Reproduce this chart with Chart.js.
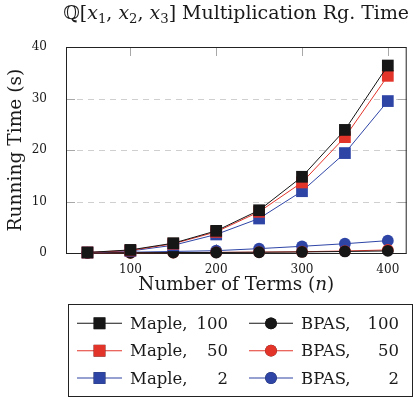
<!DOCTYPE html>
<html><head><meta charset="utf-8">
<script src="https://cdn.jsdelivr.net/npm/chart.js@4"></script>
<style>html,body{margin:0;padding:0;background:#fff}#wrap{width:415px;height:400px}</style>
</head><body><div id="wrap"><canvas id="c" width="415" height="400"></canvas></div>
<script>
// ---- data ----
const terms = [50, 100, 150, 200, 250, 300, 350, 400];
const xTicks = [100, 200, 300, 400];
const yTicks = [0, 10, 20, 30, 40];
const methods = ['Maple', 'BPAS'];
const sizes = ['100', '50', '2'];
const maple100 = [0.1, 0.6, 1.9, 4.3, 8.3, 14.8, 23.9, 36.4];
const maple50  = [0.1, 0.5, 1.8, 4.1, 8.0, 13.7, 22.5, 34.4];
const maple2   = [0.1, 0.4, 1.5, 3.6, 6.7, 12.0, 19.4, 29.5];
const bpas100  = [0.02, 0.05, 0.08, 0.1, 0.15, 0.2, 0.3, 0.4];
const bpas50   = [0.02, 0.05, 0.08, 0.12, 0.17, 0.25, 0.38, 0.6];
const bpas2    = [0.05, 0.15, 0.3, 0.45, 0.85, 1.3, 1.8, 2.4];

const colors = ['#161616', '#e3342a', '#2e45a6'];
const series = [[maple100, maple50, maple2], [bpas100, bpas50, bpas2]];
const pstyles = ['rect', 'circle'];
const pradius = [8.3, 5.9];

const SERIF = '"DejaVu Serif", "DejaVu Sans", serif';
const TXT = '#1a1a1a';
function fnt(size, italic) { return (italic ? 'italic ' : '') + size + 'px ' + SERIF; }

const datasets = [];
methods.forEach((m, mi) => sizes.forEach((s, si) => {
  datasets.push({
    label: m + ', ' + s,
    data: terms.map((t, i) => ({ x: t, y: series[mi][si][i] })),
    borderColor: colors[si],
    backgroundColor: colors[si],
    pointBackgroundColor: colors[si],
    pointBorderColor: colors[si],
    pointBorderWidth: 0,
    pointStyle: pstyles[mi],
    pointRadius: pradius[mi],
    pointHoverRadius: pradius[mi],
    borderWidth: 1,
    tension: 0,
    clip: false
  });
}));

function segWidth(ctx, segs, size) {
  let w = 0;
  segs.forEach(s => { ctx.font = fnt(s.sub ? size * 0.7 : size, s.i); w += ctx.measureText(s.t).width; });
  return w;
}
function drawRich(ctx, segs, cx, baseline, targetW) {
  const base = 20;
  const size = base * targetW / segWidth(ctx, segs, base);
  let x = cx - targetW / 2;
  ctx.textAlign = 'left';
  ctx.textBaseline = 'alphabetic';
  segs.forEach(s => {
    const sz = s.sub ? size * 0.7 : size;
    ctx.font = fnt(sz, s.i);
    ctx.fillText(s.t, x, baseline + (s.sub ? size * 0.22 : 0));
    x += ctx.measureText(s.t).width;
  });
}

const decor = {
  id: 'decor',
  beforeDatasetsDraw(chart) {
    const ctx = chart.ctx, a = chart.chartArea;
    const xs = chart.scales.x, ys = chart.scales.y;
    ctx.save();
    // dashed grid
    ctx.strokeStyle = '#cfcfcf';
    ctx.lineWidth = 1;
    ctx.setLineDash([6, 5]);
    yTicks.forEach(v => {
      if (v === 0 || v === 40) return;
      const y = Math.round(ys.getPixelForValue(v)) + 0.5;
      ctx.beginPath(); ctx.moveTo(a.left, y); ctx.lineTo(a.right, y); ctx.stroke();
    });
    ctx.setLineDash([]);
    // inner tick marks
    ctx.strokeStyle = '#a8a8a8';
    const tl = 9;
    yTicks.forEach(v => {
      const y = Math.round(ys.getPixelForValue(v)) + 0.5;
      ctx.beginPath(); ctx.moveTo(a.left, y); ctx.lineTo(a.left + tl, y);
      ctx.moveTo(a.right, y); ctx.lineTo(a.right - tl, y); ctx.stroke();
    });
    xTicks.forEach(v => {
      const x = Math.round(xs.getPixelForValue(v)) + 0.5;
      ctx.beginPath(); ctx.moveTo(x, a.top); ctx.lineTo(x, a.top + tl);
      ctx.moveTo(x, a.bottom); ctx.lineTo(x, a.bottom - tl); ctx.stroke();
    });
    // frame
    ctx.strokeStyle = '#222';
    ctx.lineWidth = 1;
    ctx.strokeRect(a.left + 0.5, a.top + 0.5, a.right - a.left - 1, a.bottom - a.top);
    ctx.restore();
  },
  afterDraw(chart) {
    const ctx = chart.ctx, a = chart.chartArea;
    ctx.save();
    ctx.fillStyle = TXT;
    // title
    drawRich(ctx, [
      { t: 'ℚ[' }, { t: 'x', i: 1 }, { t: '1', sub: 1 }, { t: ', ' },
      { t: 'x', i: 1 }, { t: '2', sub: 1 }, { t: ', ' },
      { t: 'x', i: 1 }, { t: '3', sub: 1 }, { t: '] Multiplication Rg. Time' }
    ], (a.left + a.right) / 2, 18.5, 346);
    // x title
    drawRich(ctx, [{ t: 'Number of Terms (' }, { t: 'n', i: 1 }, { t: ')' }], (a.left + a.right) / 2, 290, 196);
    // y title
    ctx.save();
    ctx.translate(21, (a.top + a.bottom) / 2);
    ctx.rotate(-Math.PI / 2);
    drawRich(ctx, [{ t: 'Running Time (s)' }], 0, 0, 163);
    ctx.restore();
    // legend
    const L = { left: 68, top: 304, right: 413, bottom: 397 };
    ctx.strokeStyle = '#222';
    ctx.lineWidth = 1;
    ctx.strokeRect(L.left + 0.5, L.top + 0.5, L.right - L.left - 1, L.bottom - L.top - 1);
    const rowY = [323.3, 350.7, 378];
    const cols = [
      { l0: 77, l1: 122, m: 99.5, tx: 130, nx: 228 },
      { l0: 249, l1: 293, m: 271, tx: 301, nx: 399 }
    ];
    chart.data.datasets.forEach((ds, i) => {
      const mi = Math.floor(i / 3), si = i % 3;
      const c = cols[mi], y = rowY[si];
      ctx.strokeStyle = ds.borderColor;
      ctx.lineWidth = 1.1;
      ctx.beginPath(); ctx.moveTo(c.l0, y); ctx.lineTo(c.l1, y); ctx.stroke();
      Chart.helpers.drawPoint(ctx, { pointStyle: ds.pointStyle, radius: ds.pointRadius, borderWidth: 0, rotation: 0 }, c.m, y);
      ctx.fillStyle = ds.pointBackgroundColor;
      ctx.fill();
      const parts = ds.label.split(', ');
      ctx.fillStyle = TXT;
      ctx.font = fnt(16.5);
      ctx.textBaseline = 'alphabetic';
      ctx.textAlign = 'left';
      ctx.fillText(parts[0] + ',', c.tx, y + 5.5);
      ctx.textAlign = 'right';
      ctx.fillText(parts[1], c.nx, y + 5.5);
    });
    ctx.restore();
  }
};

new Chart(document.getElementById('c'), {
  type: 'line',
  data: { datasets },
  options: {
    responsive: false,
    animation: false,
    devicePixelRatio: 1,
    layout: { padding: { left: 0, right: 3, top: 47, bottom: 122 } },
    plugins: { legend: { display: false }, title: { display: false }, tooltip: { enabled: false } },
    scales: {
      x: {
        type: 'linear', min: 25, max: 422,
        afterBuildTicks: s => { s.ticks = xTicks.map(v => ({ value: v })); },
        afterFit: s => { s.height = 25; },
        grid: { display: false }, border: { display: false },
        ticks: { font: { family: SERIF, size: 12 }, color: TXT, padding: 2, maxRotation: 0 }
      },
      y: {
        type: 'linear', min: 0, max: 40,
        afterBuildTicks: s => { s.ticks = yTicks.map(v => ({ value: v })); },
        afterFit: s => { s.width = 66; },
        grid: { display: false }, border: { display: false },
        ticks: { font: { family: SERIF, size: 12 }, color: TXT, padding: 11 }
      }
    }
  },
  plugins: [decor]
});
</script>
</body></html>
